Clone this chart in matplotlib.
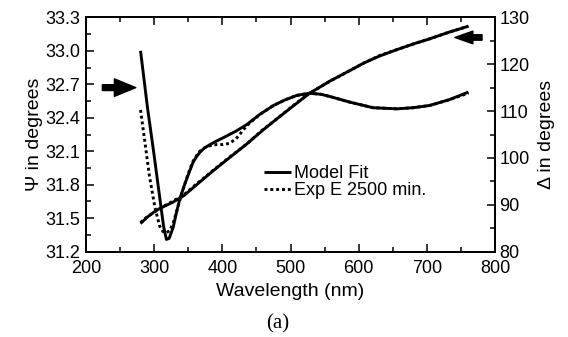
import matplotlib
matplotlib.use('Agg')
import matplotlib.pyplot as plt
import numpy as np

plt.rcParams['font.family'] = ['Liberation Sans', 'DejaVu Sans']
plt.rcParams['font.size'] = 13

# Psi (left axis) - model fit and experiment
psi_fit_wl = [280, 290, 300, 310, 314, 318, 322, 328, 333, 338, 344, 350, 357, 362,
              367, 374, 382, 391, 401, 420, 436, 455, 475, 492, 509, 528, 545, 558,
              587, 621, 656, 680, 704, 732, 761]
psi_fit = [33.00, 32.50, 32.06, 31.60, 31.42, 31.31, 31.32, 31.42, 31.56, 31.68,
           31.79, 31.89, 32.00, 32.05, 32.09, 32.13, 32.16, 32.19, 32.22, 32.28,
           32.34, 32.43, 32.51, 32.56, 32.60, 32.62, 32.61, 32.59, 32.54, 32.49,
           32.48, 32.49, 32.51, 32.56, 32.63]

psi_exp_wl = [280, 286, 293, 301, 308, 313, 318, 323, 328, 333, 338, 344, 350, 357,
              362, 367, 374, 382, 392, 400, 410, 420, 436, 455, 475, 492, 509, 528,
              545, 558, 587, 621, 656, 680, 704, 732, 761]
psi_exp = [32.47, 32.20, 31.88, 31.60, 31.43, 31.38, 31.37, 31.39, 31.46, 31.56,
           31.67, 31.79, 31.90, 32.01, 32.06, 32.10, 32.13, 32.15, 32.16, 32.16,
           32.17, 32.21, 32.33, 32.43, 32.51, 32.56, 32.60, 32.62, 32.61, 32.59,
           32.54, 32.49, 32.48, 32.49, 32.51, 32.56, 32.62]

# Delta (right axis)
delta_wl = [280, 290, 303, 315, 328, 344, 360, 386, 410, 436, 460, 484, 505, 528,
            558, 584, 607, 630, 656, 680, 704, 732, 761]
delta_fit = [86.0, 87.4, 88.8, 89.7, 90.6, 92.0, 94.0, 97.2, 100.0, 103.0, 106.0,
             108.8, 111.2, 113.8, 116.4, 118.4, 120.2, 121.7, 123.1, 124.3, 125.4,
             126.8, 128.1]
delta_exp = [86.2, 87.5, 88.7, 89.8, 90.8, 92.2, 94.2, 97.3, 100.1, 103.0, 106.1,
             108.8, 111.3, 113.8, 116.4, 118.4, 120.2, 121.8, 123.1, 124.3, 125.4,
             126.8, 128.1]

fig = plt.figure(figsize=(5.68, 3.37), dpi=100)
ax = fig.add_axes([86 / 568, 1 - 251.7 / 337, 409 / 568, 234.4 / 337])
ax2 = ax.twinx()

dot = (0, (1, 1))
l1, = ax.plot(psi_fit_wl, psi_fit, color='black', lw=2.1, solid_capstyle='butt')
l2, = ax.plot(psi_exp_wl, psi_exp, color='black', lw=2.1, linestyle=dot)
ax2.plot(delta_wl, delta_fit, color='black', lw=2.1, solid_capstyle='butt')
ax2.plot(delta_wl, delta_exp, color='black', lw=2.1, linestyle=dot)

ax.set_xlim(200, 800)
ax.set_ylim(31.2, 33.3)
ax2.set_ylim(80, 130)

ax.set_xticks(np.arange(200, 801, 100))
ax.set_xticks(np.arange(250, 800, 100), minor=True)
ax.set_yticks(np.arange(31.2, 33.31, 0.3))
ax.set_yticklabels([f'{v:.1f}' for v in np.arange(31.2, 33.31, 0.3)])
ax.set_yticks(np.arange(31.35, 33.3, 0.3), minor=True)
ax2.set_yticks(np.arange(80, 131, 10))
ax2.set_yticks(np.arange(85, 130, 10), minor=True)

for a in (ax, ax2):
    a.tick_params(which='major', direction='in', length=6, width=1.1, labelsize=13)
    a.tick_params(which='minor', direction='in', length=3.5, width=1.1)
    for s in a.spines.values():
        s.set_linewidth(1.3)
ax.tick_params(which='both', top=True, right=False)
ax.tick_params(axis='x', pad=6)
ax.tick_params(axis='y', pad=4)
ax2.tick_params(axis='y', pad=3)

ax.set_xlabel('Wavelength (nm)', fontsize=14, labelpad=4)
ax.set_ylabel('Ψ in degrees', fontsize=14, labelpad=2)
ax2.set_ylabel('Δ in degrees', fontsize=14, labelpad=6)

# arrows pointing to the relevant axis
ax.annotate('', xy=(273, 32.67), xytext=(224, 32.67),
            arrowprops=dict(arrowstyle='simple,head_length=1.1,head_width=0.9,tail_width=0.3',
                            color='black', mutation_scale=14, shrinkA=0, shrinkB=0))
ax2.annotate('', xy=(741, 125.7), xytext=(781, 125.7),
             arrowprops=dict(arrowstyle='simple,head_length=1.0,head_width=0.7,tail_width=0.3',
                             color='black', mutation_scale=13, shrinkA=0, shrinkB=0))

ax.legend([l1, l2], ['Model Fit', 'Exp E 2500 min.'], loc='upper left',
          bbox_to_anchor=(0.435, 0.37), frameon=False, fontsize=13,
          handlelength=1.5, handletextpad=0.15, labelspacing=0.0, borderpad=0,
          borderaxespad=0)

fig.text(278 / 568, 1 - 324 / 337, '(a)', ha='center', va='center',
         fontsize=15, family='Liberation Serif')

fig.savefig('out.png', dpi=100, facecolor='white')
